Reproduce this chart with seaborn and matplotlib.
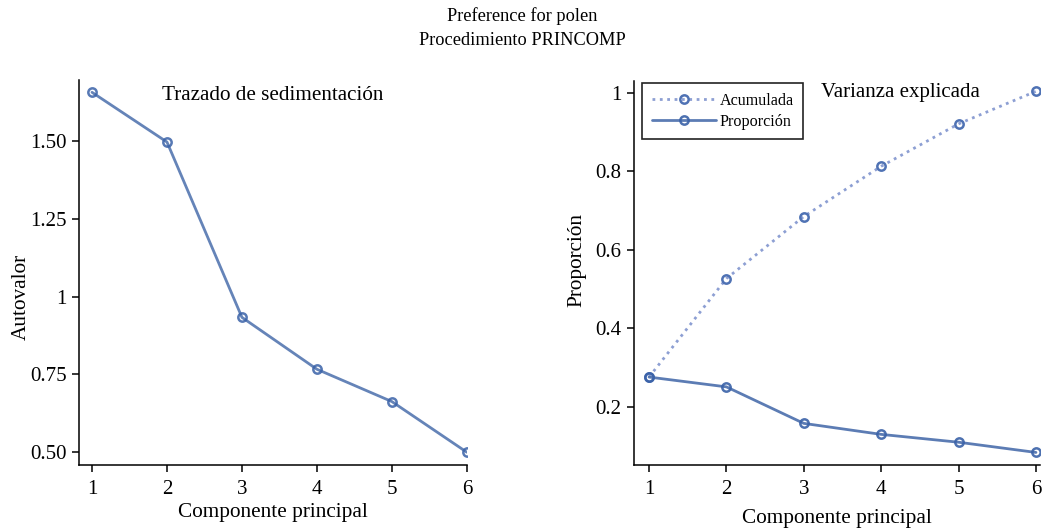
import pandas as pd
import matplotlib
matplotlib.use('Agg')
import matplotlib.pyplot as plt
import seaborn as sns

# valores
componentes = [1, 2, 3, 4, 5, 6]
autovalores = [1.657, 1.497, 0.933, 0.766, 0.662, 0.499]
proporcion = [0.276, 0.251, 0.158, 0.130, 0.110, 0.084]
acumulada = [0.276, 0.527, 0.685, 0.813, 0.921, 1.004]

sns.set_style('ticks')
plt.rcParams['font.family'] = ['Liberation Serif', 'DejaVu Serif']
plt.rcParams['axes.linewidth'] = 1.1
plt.rcParams['axes.edgecolor'] = 'black'
plt.rcParams['xtick.color'] = 'black'
plt.rcParams['ytick.color'] = 'black'
plt.rcParams['text.color'] = 'black'
plt.rcParams['axes.labelcolor'] = 'black'

df_scree = pd.DataFrame({'Componente': componentes, 'Autovalor': autovalores})
df_var = pd.DataFrame({'Componente': componentes, 'Proporcion': proporcion, 'Acumulada': acumulada})

col_sol = '#4a6eac'
col_pun = '#8d9fd3'

fig = plt.figure(figsize=(10.44, 5.31), dpi=100)
ax1 = fig.add_axes([0.0757, 0.1243, 0.3715, 0.7247])
ax2 = fig.add_axes([0.6073, 0.1243, 0.3887, 0.7230])

# Trazado de sedimentacion
sns.lineplot(data=df_scree, x='Componente', y='Autovalor', ax=ax1, color=col_sol,
             linewidth=2, alpha=0.85, marker='o', markersize=6,
             markerfacecolor='none', markeredgecolor='#3a62a8', markeredgewidth=1.8)
ax1.set_xlim(0.827, 6.0)
ax1.set_ylim(0.458, 1.696)
ax1.set_yticks([0.5, 0.75, 1.0, 1.25, 1.5])
ax1.set_yticklabels(['0.50', '0.75', '1', '1.25', '1.50'])
ax1.set_xticks(componentes)
ax1.set_xlabel('Componente principal', fontsize=15.3, labelpad=3)
ax1.set_ylabel('Autovalor', fontsize=15.3)
ax1.yaxis.set_label_coords(-0.124, 0.436)
ax1.text(0.5, 0.985, 'Trazado de sedimentación', transform=ax1.transAxes,
         ha='center', va='top', fontsize=15.2)

# Varianza explicada
sns.lineplot(data=df_var, x='Componente', y='Acumulada', ax=ax2, color=col_pun,
             linewidth=2, linestyle=':', marker='o', markersize=6,
             markerfacecolor='none', markeredgecolor='#4f72b4', markeredgewidth=1.8,
             label='Acumulada')
sns.lineplot(data=df_var, x='Componente', y='Proporcion', ax=ax2, color=col_sol,
             linewidth=2, alpha=0.9, marker='o', markersize=6,
             markerfacecolor='none', markeredgecolor='#3a62a8', markeredgewidth=1.8,
             label='Proporción')
ax2.set_xlim(0.806, 6.05)
ax2.set_ylim(0.052, 1.03)
ax2.set_yticks([0.2, 0.4, 0.6, 0.8, 1.0])
ax2.set_yticklabels(['0.2', '0.4', '0.6', '0.8', '1'])
ax2.set_xticks(componentes)
ax2.set_xlabel('Componente principal', fontsize=15.3, labelpad=7)
ax2.set_ylabel('Proporción', fontsize=15.3)
ax2.yaxis.set_label_coords(-0.118, 0.534)
leg = ax2.legend(loc='upper left', bbox_to_anchor=(0.02, 0.995), fontsize=11.6,
                 frameon=True, fancybox=False, borderaxespad=0, handlelength=4.0,
                 handletextpad=0.2, labelspacing=0.3, borderpad=0.6, framealpha=1)
leg.get_frame().set_edgecolor('#222222')
leg.get_frame().set_linewidth(1.2)
ax2.text(0.46, 0.995, 'Varianza explicada', transform=ax2.transAxes,
         ha='left', va='top', fontsize=15)

for ax in (ax1, ax2):
    sns.despine(ax=ax)
    ax.tick_params(labelsize=15, length=5, width=1.1, direction='out', pad=4)
    ax.tick_params(axis='x', pad=6)

fig.suptitle('Preference for polen\nProcedimiento PRINCOMP', fontsize=13.2,
             y=0.987, linespacing=1.55)

fig.savefig('out.png', dpi=100)
